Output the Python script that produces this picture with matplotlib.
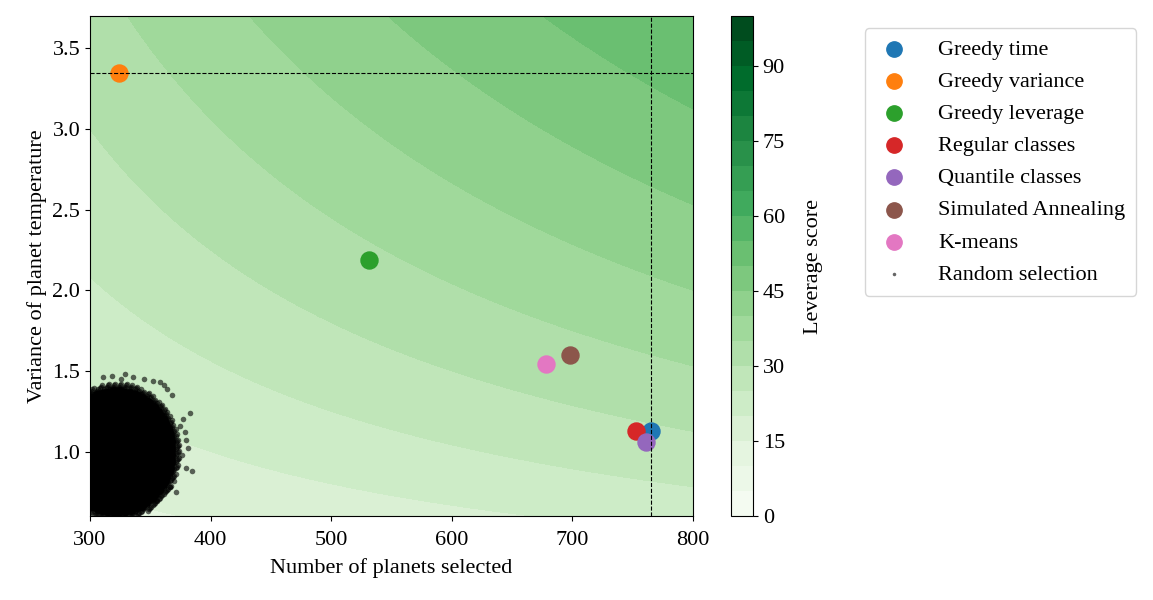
import numpy as np
import matplotlib
matplotlib.use('Agg')
import matplotlib.pyplot as plt

plt.rcParams['font.family'] = ['Liberation Serif', 'DejaVu Serif']
plt.rcParams['font.size'] = 16

# selection methods: (number of planets, variance of temperature)
methods = ['Greedy time', 'Greedy variance', 'Greedy leverage', 'Regular classes',
           'Quantile classes', 'Simulated Annealing', 'K-means']
n_sel = [765, 324, 531, 753, 761, 698, 678]
var_sel = [1.13, 3.35, 2.19, 1.13, 1.06, 1.60, 1.54]
colors = ['tab:blue', 'tab:orange', 'tab:green', 'tab:red',
          'tab:purple', 'tab:brown', 'tab:pink']

# random selection cloud: centre / half-widths
rand_center = (322, 1.0)
rand_half = (48, 0.39)
# loose points around the edge of the cloud
rand_edge_n = [329, 358, 345, 368, 383, 380, 385, 380, 371, 339, 356, 375, 376,
               352, 364, 336, 318, 377, 366, 349, 379, 361, 326, 370, 381, 311]
rand_edge_v = [1.48, 1.43, 1.45, 1.35, 1.24, 1.07, 0.88, 0.90, 0.75, 0.66, 0.69,
               1.16, 0.98, 1.44, 1.39, 1.46, 1.47, 1.20, 0.78, 0.70, 1.12,
               1.41, 1.45, 0.82, 1.02, 1.46]

xlim = (300, 800)
ylim = (0.6, 3.7)
levels = np.arange(0, 105, 5)


def leverage(n, v):
    return np.sqrt(n * v)


fig = plt.figure(figsize=(11.53, 6.0), dpi=100)
ax = fig.add_axes([0.078, 0.14, 0.523, 0.833])
cax = fig.add_axes([0.634, 0.14, 0.019, 0.833])

gx, gy = np.meshgrid(np.linspace(xlim[0], xlim[1], 300), np.linspace(ylim[0], ylim[1], 300))
cf = ax.contourf(gx, gy, leverage(gx, gy), levels=levels, cmap='Greens', vmin=0, vmax=100)
cb = fig.colorbar(cf, cax=cax, ticks=np.arange(0, 91, 15))
cb.set_label('Leverage score', labelpad=14)

# dense cloud: solid core plus a thinner rim
bx, by = np.meshgrid(np.arange(260, 390, 1.0), np.arange(0.45, 1.55, 0.008))
r = np.sqrt(((bx - rand_center[0]) / rand_half[0]) ** 2 + ((by - rand_center[1]) / rand_half[1]) ** 2)
core = r <= 1
ax.scatter(bx[core], by[core], s=14, c='black', alpha=0.6, lw=0, zorder=2)
ix, iy = np.indices(bx.shape)
rim = (r > 1) & (r <= 1.09) & ((ix * 7 + iy * 3) % 5 == 0)
ax.scatter(bx[rim], by[rim], s=16, c='black', alpha=0.6, lw=0, zorder=2)
ax.scatter(rand_edge_n, rand_edge_v, s=16, c='black', alpha=0.6, lw=0, zorder=2)

handles = []
for name, n, v, c in zip(methods, n_sel, var_sel, colors):
    h = ax.scatter(n, v, s=150, color=c, label=name, zorder=3)
    handles.append(h)

ax.axvline(max(n_sel), color='black', ls='--', lw=0.8, zorder=4)
ax.axhline(max(var_sel), color='black', ls='--', lw=0.8, zorder=4)

ax.set_xlim(xlim)
ax.set_ylim(ylim)
ax.tick_params(axis='x', pad=7)
ax.set_xlabel('Number of planets selected', labelpad=6)
ax.set_ylabel('Variance of planet temperature')

rnd_handle = ax.scatter([], [], s=8, c='black', alpha=0.6, lw=0)
fig.legend(handles + [rnd_handle], methods + ['Random selection'],
           loc='upper left', bbox_to_anchor=(0.750, 0.953), borderaxespad=0,
           fontsize=16, handlelength=1.6, handletextpad=1.2, borderpad=0.5,
           labelspacing=0.52, markerscale=0.9)

fig.savefig('out.png', dpi=100)
